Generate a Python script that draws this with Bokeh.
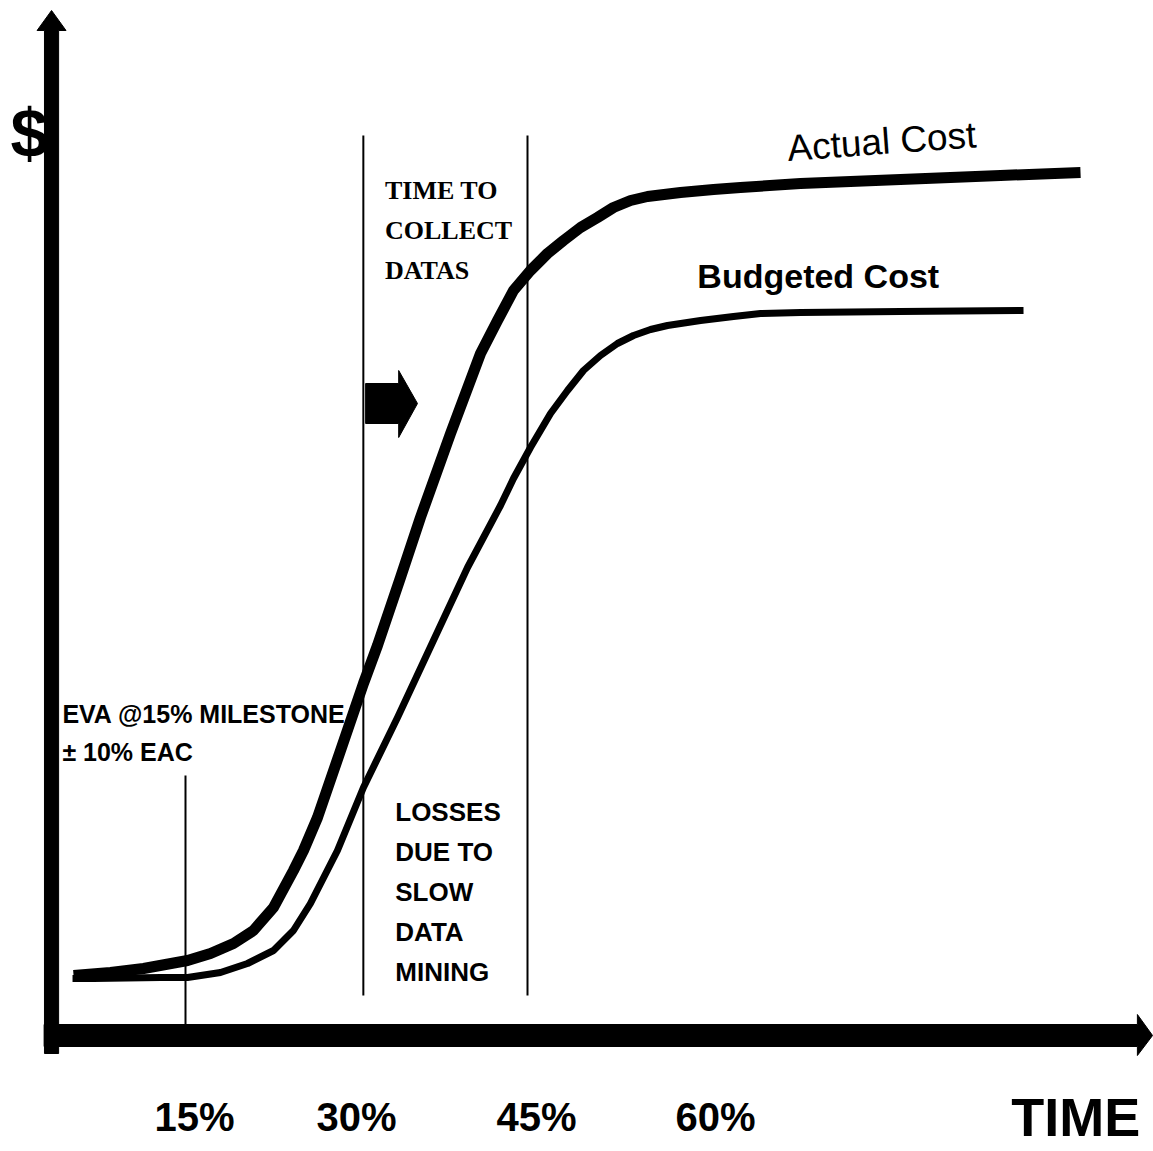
from bokeh.plotting import figure
from bokeh.models import Range1d
from bokeh.core.properties import value
from bokeh.embed import file_html
from bokeh.resources import INLINE

# ---- data (time in %, cost in arbitrary $ units) ----
actual_time = [5.18, 8.42, 11.32, 15.18, 17.19, 19.21, 20.96, 22.72, 24.47, 25.35, 26.58,
               28.60, 30.61, 31.84, 33.86, 35.61, 38.25, 40.88, 42.37, 43.77, 45.26, 46.75,
               48.16, 49.65, 51.14, 52.54, 54.04, 55.53, 58.42, 61.32, 63.68, 68.95, 77.72,
               86.49, 93.51]
actual_cost = [5.9, 6.2, 6.6, 7.4, 8.1, 9.1, 10.4, 12.7, 16.4, 18.4, 21.7,
               28.4, 35.1, 38.9, 45.7, 51.7, 60.1, 68.1, 71.4, 74.4, 76.4, 78.1,
               79.4, 80.7, 81.7, 82.7, 83.4, 83.8, 84.2, 84.5, 84.7, 85.1, 85.5,
               85.9, 86.2]

budget_time = [5.09, 6.93, 12.81, 15.18, 18.07, 20.44, 22.72, 24.47, 25.96, 28.33, 30.61,
               33.60, 36.75, 39.74, 42.63, 43.77, 45.26, 47.02, 48.51, 49.91, 51.40, 52.89,
               54.30, 55.79, 57.28, 60.18, 63.07, 65.44, 68.95, 77.72, 88.51]
budget_cost = [5.6, 5.6, 5.7, 5.7, 6.2, 7.1, 8.4, 10.4, 13.1, 18.4, 24.7,
               31.7, 39.4, 46.7, 52.9, 55.6, 58.7, 62.1, 64.4, 66.4, 67.9, 69.1,
               69.9, 70.5, 70.9, 71.4, 71.8, 72.1, 72.2, 72.3, 72.4]

tick_labels = ["15%", "30%", "45%", "60%"]
tick_label_x = [15.8, 30.0, 45.8, 61.5]

milestone_x = [15.0, 30.6, 45.0]

# ---- figure ----
p = figure(width=1153, height=1151,
           x_range=Range1d(-1.228, 99.912), y_range=Range1d(-11.7, 103.4),
           output_backend="svg", toolbar_location=None,
           x_axis_location=None, y_axis_location=None, min_border=0)
p.grid.visible = False
p.outline_line_color = None
p.background_fill_color = "white"
p.border_fill_color = "white"

SANS = value("Liberation Sans")
SERIF = value("Liberation Serif")

# vertical milestone lines
p.segment(x0=[milestone_x[0]], y0=[1.0], x1=[milestone_x[0]], y1=[25.9],
          line_color="black", line_width=2)
p.segment(x0=milestone_x[1:], y0=[3.9, 3.9], x1=milestone_x[1:], y1=[89.9, 89.9],
          line_color="black", line_width=2)

# curves
p.line(budget_time, budget_cost, line_color="black", line_width=7, line_join="round")
p.line(actual_time, actual_cost, line_color="black", line_width=11, line_join="round")

# axes drawn as thick arrows
ax_x, ax_hw = 3.25, 0.62
p.patch([ax_x - ax_hw, ax_x + ax_hw, ax_x + ax_hw, ax_x + 1.27, ax_x, ax_x - 1.27, ax_x - ax_hw],
        [-1.9, -1.9, 100.4, 100.4, 102.4, 100.4, 100.4], color="black")
ay_c, ay_hw = -0.1, 1.1
p.patch([2.6, 98.5, 98.5, 99.83, 98.5, 98.5, 2.6],
        [ay_c - ay_hw, ay_c - ay_hw, -2.1, ay_c, 2.0, ay_c + ay_hw, ay_c + ay_hw], color="black")

# block arrow
p.patch([30.8, 33.7, 33.7, 35.35, 33.7, 33.7, 30.8],
        [61.1, 61.1, 59.7, 63.1, 66.4, 65.1, 65.1], color="black")

# texts (anchored at the vertical middle of the capitals)
common = dict(text_baseline="middle", text_color="black")

p.text(x=[1.3], y=[90.2], text=["$"], text_font=SANS, text_font_style="bold",
       text_font_size="68px", text_align="center", **common)

p.text(x=[67.8], y=[88.6], text=["Actual Cost"], angle=0.073, text_font=SANS,
       text_font_size="37px", text_align="left", **common)
p.text(x=[59.9], y=[75.9], text=["Budgeted Cost"], text_font=SANS, text_font_style="bold",
       text_font_size="34px", text_align="left", **common)

p.text(x=[32.5] * 3, y=[84.45, 80.45, 76.45], text=["TIME TO", "COLLECT", "DATAS"],
       text_font=SERIF, text_font_style="bold", text_font_size="26px",
       text_align="left", **common)

p.text(x=[4.2] * 2, y=[32.05, 28.25], text=["EVA @15% MILESTONE", "\u00b1 10% EAC"],
       text_font=SANS, text_font_style="bold", text_font_size="25px",
       text_align="left", **common)

p.text(x=[33.4] * 5, y=[22.3, 18.3, 14.3, 10.3, 6.3],
       text=["LOSSES", "DUE TO", "SLOW", "DATA", "MINING"],
       text_font=SANS, text_font_style="bold", text_font_size="26px",
       text_align="left", **common)

p.text(x=tick_label_x, y=[-8.2] * 4, text=tick_labels, text_font=SANS,
       text_font_style="bold", text_font_size="40px", text_align="center", **common)

p.text(x=[93.1], y=[-8.25], text=["TIME"], text_font=SANS, text_font_style="bold",
       text_font_size="54px", text_align="center", **common)

open("out.html", "w").write(file_html(p, INLINE))
